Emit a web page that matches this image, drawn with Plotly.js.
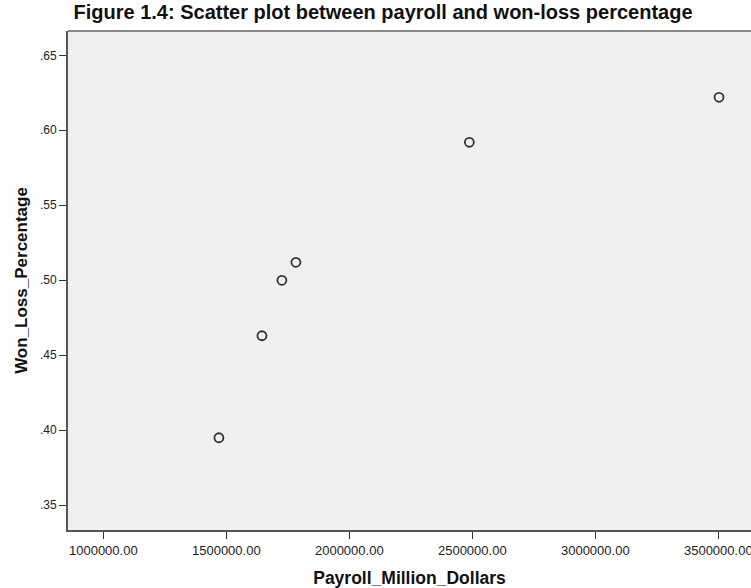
<!DOCTYPE html>
<html>
<head>
<meta charset="utf-8">
<script src="https://cdn.plot.ly/plotly-3.0.1.min.js"></script>
<style>html,body{margin:0;padding:0;background:#fff;}#chart{width:751px;height:588px;}</style>
</head>
<body>
<div id="chart"></div>
<script>
// Data
const payroll = [1470000, 1645000, 1726000, 1783000, 2488000, 3503000];
const wonLossPct = [0.395, 0.463, 0.500, 0.512, 0.592, 0.622];

const xTickVals = [1000000, 1500000, 2000000, 2500000, 3000000, 3500000];
const xTickText = ["1000000.00", "1500000.00", "2000000.00", "2500000.00", "3000000.00", "3500000.00"];
const yTickVals = [0.35, 0.40, 0.45, 0.50, 0.55, 0.60, 0.65];
const yTickText = [".35", ".40", ".45", ".50", ".55", ".60", ".65"];

const chartTitle = "Figure 1.4: Scatter plot between payroll and won-loss percentage";
const xTitle = "Payroll_Million_Dollars";
const yTitle = "Won_Loss_Percentage";

const FONT = "Liberation Sans, Arial, sans-serif";

const trace = {
  type: "scatter",
  mode: "markers",
  x: payroll,
  y: wonLossPct,
  marker: {
    symbol: "circle-open",
    size: 9,
    color: "#333333",
    line: {width: 1.8, color: "#333333"}
  },
  hoverinfo: "x+y"
};

const layout = {
  width: 751,
  height: 588,
  margin: {l: 68, r: 0, t: 31, b: 58, pad: 0},
  paper_bgcolor: "#ffffff",
  plot_bgcolor: "#f0f0f0",
  showlegend: false,
  title: {
    text: chartTitle,
    font: {family: FONT, size: 20, color: "#111111", weight: "bold"},
    x: 383 / 751,
    xref: "container",
    xanchor: "center",
    y: 1 - 12 / 588,
    yref: "container",
    yanchor: "middle"
  },
  xaxis: {
    range: [856500, 3633000],
    tickmode: "array",
    tickvals: xTickVals,
    ticktext: xTickText,
    ticks: "outside",
    ticklen: 7,
    tickwidth: 1.5,
    tickcolor: "#333333",
    tickfont: {family: FONT, size: 13, color: "#222222"},
    ticklabeloverflow: "allow",
    showgrid: false,
    zeroline: false,
    showline: true,
    linecolor: "#555555",
    linewidth: 2,
    automargin: false,
    title: {
      text: xTitle,
      font: {family: FONT, size: 17.5, color: "#111111", weight: "bold"},
      standoff: 16
    }
  },
  yaxis: {
    range: [0.3335, 0.6662],
    tickmode: "array",
    tickvals: yTickVals,
    ticktext: yTickText,
    ticks: "outside",
    ticklen: 7,
    tickwidth: 1.5,
    tickcolor: "#333333",
    tickfont: {family: FONT, size: 12, color: "#222222"},
    showgrid: false,
    zeroline: false,
    showline: true,
    linecolor: "#555555",
    linewidth: 2,
    automargin: false,
    title: {
      text: yTitle,
      font: {family: FONT, size: 17, color: "#111111", weight: "bold"},
      standoff: 8
    }
  },
  shapes: [{
    type: "line",
    xref: "paper", yref: "paper",
    x0: 0, x1: 1, y0: 1, y1: 1,
    line: {color: "#888888", width: 2}
  }]
};

Plotly.newPlot("chart", [trace], layout, {displayModeBar: false, staticPlot: true});
</script>
</body>
</html>
